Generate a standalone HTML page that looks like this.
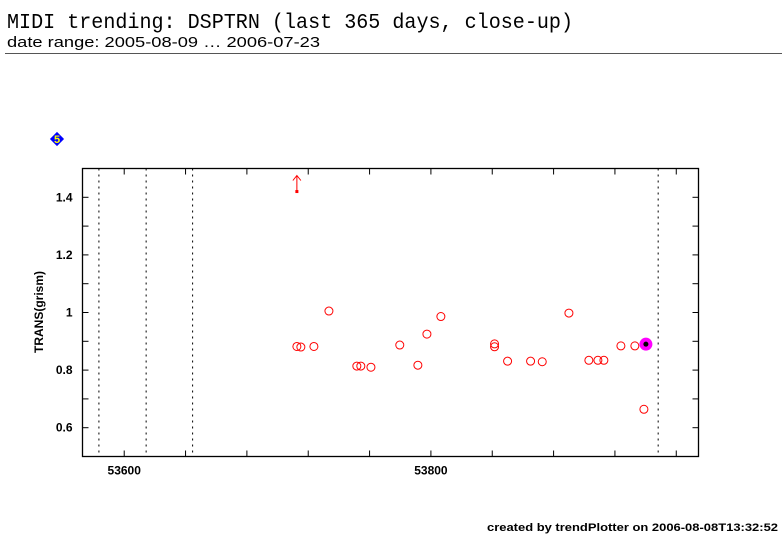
<!DOCTYPE html>
<html><head><meta charset="utf-8"><style>
body{margin:0;background:#fff;width:782px;height:542px;overflow:hidden}
svg{display:block}
</style></head><body>
<svg id="c" width="782" height="542" xmlns="http://www.w3.org/2000/svg">
<text x="7" y="28" font-family="Liberation Mono, monospace" font-size="21" textLength="566" lengthAdjust="spacingAndGlyphs">MIDI trending: DSPTRN (last 365 days, close-up)</text>
<text x="7" y="47" font-family="Liberation Sans, sans-serif" font-size="15" textLength="313" lengthAdjust="spacingAndGlyphs">date range: 2005-08-09 … 2006-07-23</text>
<line x1="5" y1="53.5" x2="782" y2="53.5" stroke="#555" stroke-width="1"/>
<g><rect x="52" y="134" width="10" height="10" transform="rotate(45 57 139)" fill="#00f"/><text x="57" y="143" text-anchor="middle" font-family="Liberation Sans, sans-serif" font-weight="bold" font-size="11" fill="#ff0">5</text></g>
<text transform="translate(43,312) rotate(-90)" text-anchor="middle" font-family="Liberation Sans, sans-serif" font-weight="bold" font-size="12">TRANS(grism)</text>
<text x="487" y="531" font-family="Liberation Sans, sans-serif" font-weight="bold" font-size="11" textLength="291" lengthAdjust="spacingAndGlyphs">created by trendPlotter on 2006-08-08T13:32:52</text>
<g id="plot"></g>
</svg>
<script>
const xTicks=[53600,53800];
const xMinorTicks=[53600,53640,53680,53720,53760,53800,53840,53880,53920,53960];
const yTicks=[0.6,0.8,1,1.2,1.4];
const yTickLabels=["0.6","0.8","1","1.2","1.4"];
const yMinorTicks=[0.6,0.7,0.8,0.9,1,1.1,1.2,1.3,1.4];
const vlineDates=[53583.5,53614.3,53644.6,53948.2];
const mjd=[53712.6,53715.2,53723.7,53733.5,53751.7,53754.3,53760.9,53779.7,53791.5,53797.4,53806.5,53841.5,53841.5,53850,53865,53872.6,53890,53903,53908.9,53912.8,53923.9,53933,53938.9];
const trans=[0.882,0.880,0.882,1.005,0.814,0.814,0.810,0.887,0.817,0.925,0.986,0.891,0.881,0.831,0.831,0.829,0.998,0.834,0.834,0.834,0.884,0.884,0.664];
const latestMjd=[53940.2];
const latestVal=[0.890];
const outlierMjd=[53712.6];
const outlierVal=[1.42];

const L=82.5,R=698.5,T=168.5,B=456.5;
const x0=53572.8,x1=53974.5,y0=0.5,y1=1.5;
const sx=v=>L+(v-x0)/(x1-x0)*(R-L);
const sy=v=>B-(v-y0)/(y1-y0)*(B-T);
const NS="http://www.w3.org/2000/svg";
const g=document.getElementById('plot');
function mk(t,a,p){const e=document.createElementNS(NS,t);for(const k in a)e.setAttribute(k,a[k]);(p||g).appendChild(e);return e;}

const frame=mk('rect',{x:L,y:T,width:R-L,height:B-T,fill:'none',stroke:'#000','stroke-width':1.3});



vlineDates.forEach(d=>{const l=mk('line',{x1:sx(d),x2:sx(d),y1:T,y2:B,stroke:'#000','stroke-width':1,'stroke-dasharray':'2,4'});

});

xMinorTicks.forEach(d=>{const x=sx(d);
const a=mk('line',{x1:x,x2:x,y1:B,y2:B-6,stroke:'#000'});


const b=mk('line',{x1:x,x2:x,y1:T,y2:T+6,stroke:'#000'});

});
xTicks.forEach(d=>{const t=mk('text',{x:sx(d),y:B+18,'text-anchor':'middle','font-family':'Liberation Sans, sans-serif','font-weight':'bold','font-size':12});t.textContent=String(d);

});
yMinorTicks.forEach(v=>{const y=sy(v);
const a=mk('line',{x1:L,x2:L+6,y1:y,y2:y,stroke:'#000'});


const b=mk('line',{x1:R,x2:R-6,y1:y,y2:y,stroke:'#000'});

});
yTicks.forEach((v,i)=>{const t=mk('text',{x:L-10,y:sy(v)+4,'text-anchor':'end','font-family':'Liberation Sans, sans-serif','font-weight':'bold','font-size':12});t.textContent=yTickLabels[i];

});

mjd.forEach((d,i)=>{const c=mk('circle',{cx:sx(d),cy:sy(trans[i]),r:4,fill:'none',stroke:'#f00','stroke-width':1});

});
latestMjd.forEach((d,i)=>{
const a=mk('circle',{cx:sx(d),cy:sy(latestVal[i]),r:6.5,fill:'#f0f'});


const b=mk('circle',{cx:sx(d),cy:sy(latestVal[i]),r:2.5,fill:'#000'});

});
outlierMjd.forEach((d,i)=>{const x=sx(d),y=sy(outlierVal[i]);
const gr=mk('g',{});


mk('rect',{x:x-1.5,y:y-1.5,width:3,height:3,fill:'#f00'},gr);
mk('path',{d:`M${x} ${y} L${x} ${T+7} M${x-4} ${T+12} L${x} ${T+7} L${x+4} ${T+12}`,fill:'none',stroke:'#f00','stroke-width':1},gr);});
</script>
</body></html>
